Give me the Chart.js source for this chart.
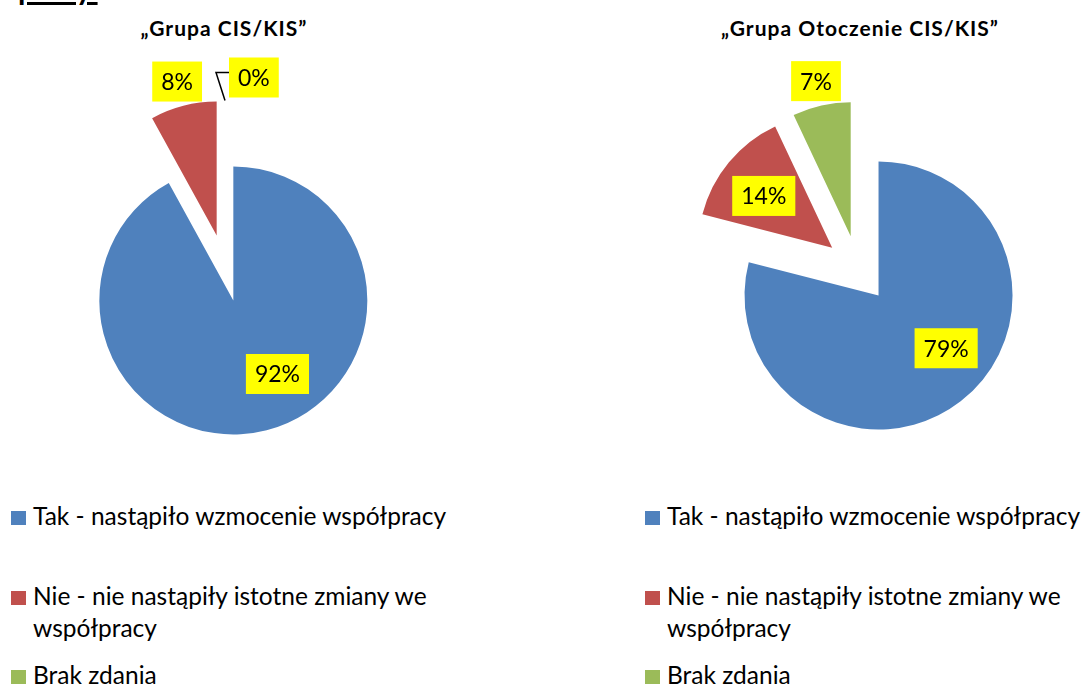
<!DOCTYPE html>
<html>
<head>
<meta charset="utf-8">
<script src="https://cdn.jsdelivr.net/npm/chart.js@4"></script>
<style>
  body { margin: 0; width: 1084px; height: 687px; overflow: hidden; background: #fff; position: relative; font-family: Lato, "Open Sans", sans-serif; color: #000; }
  #cut { position: absolute; left: 18px; top: -29px; font-weight: bold; font-size: 30px; line-height: 34px; text-decoration: underline; }
  .title { position: absolute; top: 16px; width: 400px; text-align: center; font-weight: bold; font-size: 21px; line-height: 24px; letter-spacing: 1px; }
  .wrap { position: absolute; width: 440px; height: 440px; }
  .legend { position: absolute; top: 0; }
  .item { position: absolute; width: 460px; font-size: 24.5px; line-height: 32px; padding-left: 22px; }
  .item span { position: absolute; left: 0; top: 11px; width: 15px; height: 14px; }
</style>
</head>
<body>
<div id="cut">pracy.</div>
<div class="title" id="t0" style="left:24px"></div>
<div class="title" id="t1" style="left:660px"></div>
<div class="wrap" style="left:5px;top:48px"><canvas id="c0" width="440" height="440"></canvas></div>
<div class="wrap" style="left:638px;top:49px"><canvas id="c1" width="440" height="440"></canvas></div>
<div class="legend" id="l0" style="left:11px"></div>
<div class="legend" id="l1" style="left:645px"></div>

<script>
const categories = ["Tak - nastąpiło wzmocenie współpracy", "Nie - nie nastąpiły istotne zmiany we współpracy", "Brak zdania"];
const titles = ["„Grupa CIS/KIS”", "„Grupa Otoczenie CIS/KIS”"];
const cisValues = [92, 8, 0];
const otoczenieValues = [79, 14, 7];
const colors = ["#4F81BD", "#C0504D", "#9BBB59"];

/* EXPLODE: push every slice out along its middle angle */
const explode = {
  id: "explode",
  afterDatasetsUpdate(chart, args, opts) {
    chart.getDatasetMeta(0).data.forEach(arc => {
      const mid = (arc.startAngle + arc.endAngle) / 2;
      arc.x += Math.cos(mid) * opts.distance;
      arc.y += Math.sin(mid) * opts.distance;
    });
  }
};

/* YELLOW DATA LABELS */
const boxLabels = {
  id: "boxLabels",
  afterDatasetsDraw(chart, args, opts) {
    const ctx = chart.ctx;
    const values = chart.data.datasets[0].data;
    ctx.save();
    ctx.font = "23px Lato";
    ctx.textAlign = "center";
    ctx.textBaseline = "middle";
    chart.getDatasetMeta(0).data.forEach((arc, i) => {
      const text = values[i] + "%";
      const w = ctx.measureText(text).width + 18, h = 40;
      const mid = (arc.startAngle + arc.endAngle) / 2;
      const r = arc.outerRadius;
      let x, y;
      if (values[i] === 0) {
        const px = arc.x + Math.cos(arc.endAngle) * r;
        const py = arc.y + Math.sin(arc.endAngle) * r;
        x = px + 4 + w / 2;
        y = py - 23;
        ctx.strokeStyle = "#000";
        ctx.lineWidth = 1.5;
        ctx.beginPath();
        ctx.moveTo(px, py);
        ctx.lineTo(px - 9, py - 28);
        ctx.lineTo(px + 4, py - 28);
        ctx.stroke();
      } else {
        // inside labels sit a little before the middle, like Excel's best fit
        const a = opts.pos[i] === "in" ? mid - (arc.endAngle - arc.startAngle) * 0.05 : mid;
        const d = opts.pos[i] === "in" ? r * 0.64 : r + 25;
        x = arc.x + Math.cos(a) * d;
        y = arc.y + Math.sin(a) * d;
      }
      ctx.fillStyle = "#FFFF00";
      ctx.fillRect(x - w / 2, y - h / 2, w, h);
      ctx.fillStyle = "#000";
      ctx.fillText(text, x, y + 1);
    });
    ctx.restore();
  }
};

function makePie(id, values, pos) {
  return new Chart(document.getElementById(id), {
    type: "pie",
    data: {
      labels: categories,
      datasets: [{ data: values, backgroundColor: colors, borderWidth: 0 }]
    },
    options: {
      responsive: false,
      animation: false,
      events: [],
      radius: 134,
      layout: { padding: 0 },
      plugins: {
        legend: { display: false },
        tooltip: { enabled: false },
        explode: { distance: 33.5 },
        boxLabels: { pos }
      }
    },
    plugins: [explode, boxLabels]
  });
}

makePie("c0", cisValues, ["in", "out", "out"]);
makePie("c1", otoczenieValues, ["in", "in", "out"]);

/* TITLES + LEGENDS */
titles.forEach((t, k) => { document.getElementById("t" + k).innerText = t; });
["l0", "l1"].forEach(id => {
  document.getElementById(id).innerHTML = categories.map((c, i) =>
    `<div class="item" style="top:${500 + i * 79.5}px"><span style="background:${colors[i]}"></span>${c}</div>`
  ).join("");
});
</script>
</body>
</html>
